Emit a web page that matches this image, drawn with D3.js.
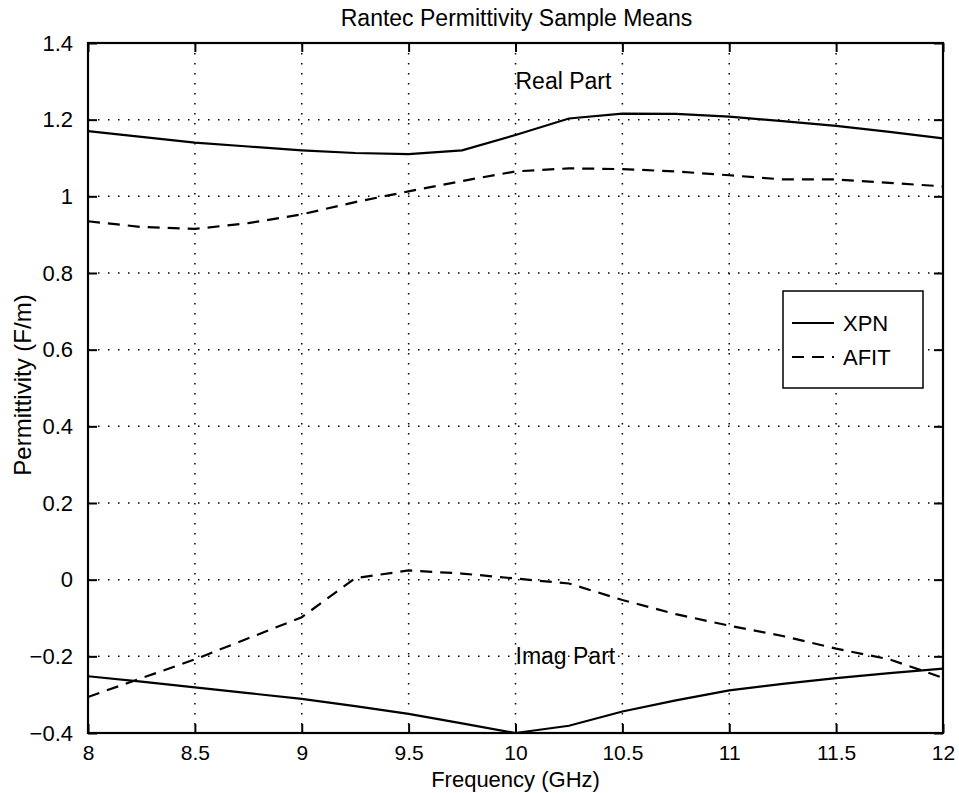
<!DOCTYPE html>
<html><head><meta charset="utf-8">
<script src="https://cdn.jsdelivr.net/npm/d3@7"></script>
<style>
body{margin:0;background:#fff;}
svg{display:block;font-family:"Liberation Sans",Arial,Helvetica,sans-serif;}
</style></head>
<body><svg id="c" width="959" height="793"></svg>
<script>
const freq = [8, 8.25, 8.5, 8.75, 9, 9.25, 9.5, 9.75, 10, 10.25, 10.5, 10.75, 11, 11.25, 11.5, 11.75, 12];
const realXPN  = [1.17, 1.155, 1.14, 1.13, 1.12, 1.113, 1.11, 1.12, 1.16, 1.203, 1.216, 1.215, 1.208, 1.196, 1.184, 1.168, 1.151];
const realAFIT = [0.935, 0.92, 0.915, 0.93, 0.953, 0.985, 1.013, 1.04, 1.065, 1.073, 1.071, 1.065, 1.055, 1.044, 1.044, 1.035, 1.026];
const imagXPN  = [-0.252, -0.266, -0.281, -0.296, -0.311, -0.33, -0.35, -0.375, -0.4, -0.381, -0.344, -0.315, -0.289, -0.272, -0.257, -0.244, -0.232];
const imagAFIT = [-0.306, -0.257, -0.208, -0.153, -0.098, 0.004, 0.024, 0.016, 0.003, -0.01, -0.053, -0.09, -0.12, -0.147, -0.18, -0.208, -0.256];
const xTicks = [8, 8.5, 9, 9.5, 10, 10.5, 11, 11.5, 12];
const yTicks = [-0.4, -0.2, 0, 0.2, 0.4, 0.6, 0.8, 1, 1.2, 1.4];
const seriesNames = ["XPN", "AFIT"];

const svg = d3.select("#c");
const L = 88, R = 943, T = 43, B = 733;
const x = d3.scaleLinear().domain([8, 12]).range([L, R]);
const y = d3.scaleLinear().domain([-0.4, 1.4]).range([B, T]);
const fmtY = v => (v < 0 ? "\u2212" + Math.abs(v) : String(v));
const fmtX = v => String(v);

// grid
const g = svg.append("g");
g.selectAll(".gx").data(xTicks.slice(1, -1)).join("line")
  .attr("x1", d => x(d)).attr("x2", d => x(d)).attr("y1", T).attr("y2", B)
  .attr("stroke", "#000").attr("stroke-width", 1.5).attr("stroke-dasharray", "1.5,8.5");
g.selectAll(".gy").data(yTicks.slice(1, -1)).join("line")
  .attr("y1", d => y(d)).attr("y2", d => y(d)).attr("x1", L).attr("x2", R)
  .attr("stroke", "#000").attr("stroke-width", 1.5).attr("stroke-dasharray", "1.5,8.5");

// axes with inward ticks
const tickLen = 9;
const axB = svg.append("g").attr("transform", `translate(0,${B})`)
  .call(d3.axisBottom(x).tickValues(xTicks).tickFormat(fmtX).tickSizeInner(-tickLen).tickSizeOuter(0).tickPadding(tickLen + 10));
const axT = svg.append("g").attr("transform", `translate(0,${T})`)
  .call(d3.axisTop(x).tickValues(xTicks).tickFormat("").tickSizeInner(-tickLen).tickSizeOuter(0));
const axL = svg.append("g").attr("transform", `translate(${L},0)`)
  .call(d3.axisLeft(y).tickValues(yTicks).tickFormat(fmtY).tickSizeInner(-tickLen).tickSizeOuter(0).tickPadding(tickLen + 6));
const axR = svg.append("g").attr("transform", `translate(${R},0)`)
  .call(d3.axisRight(y).tickValues(yTicks).tickFormat("").tickSizeInner(-tickLen).tickSizeOuter(0));
[axB, axT, axL, axR].forEach(a => {
  a.select(".domain").remove();
  a.selectAll(".tick line").attr("stroke", "#000").attr("stroke-width", 2);
  a.selectAll("text").attr("font-size", 22).attr("fill", "#000")
    .attr("font-family", "'Liberation Sans',Arial,sans-serif");
});
axB.selectAll("text").attr("dy", null).attr("y", 27).attr("font-size", 21);

// frame
svg.append("rect").attr("x", L).attr("y", T).attr("width", R - L).attr("height", B - T)
  .attr("fill", "none").attr("stroke", "#000").attr("stroke-width", 2.2);

// lines
const line = d3.line().x((d, i) => x(freq[i])).y(d => y(d));
const dataSets = [
  {v: realXPN, dash: null}, {v: realAFIT, dash: "12,8"},
  {v: imagXPN, dash: null}, {v: imagAFIT, dash: "12,8"}
];
svg.selectAll(".series").data(dataSets).join("path")
  .attr("d", d => line(d.v)).attr("fill", "none").attr("stroke", "#000")
  .attr("stroke-width", 2.2).attr("stroke-dasharray", d => d.dash);

// annotations
svg.append("text").attr("x", x(10)).attr("y", y(1.3)).attr("dy", "0.35em")
  .attr("font-size", 23).text("Real Part");
svg.append("text").attr("x", x(10)).attr("y", y(-0.2)).attr("dy", "0.35em")
  .attr("font-size", 23).text("Imag Part");

// title & labels
svg.append("text").attr("x", (L + R) / 2 + 1).attr("y", 26).attr("text-anchor", "middle")
  .attr("font-size", 23).text("Rantec Permittivity Sample Means");
svg.append("text").attr("x", (L + R) / 2).attr("y", 787).attr("text-anchor", "middle")
  .attr("font-size", 22).text("Frequency (GHz)");
svg.append("text").attr("transform", `translate(31,${(T + B) / 2 - 3}) rotate(-90)`).attr("text-anchor", "middle")
  .attr("font-size", 24).text("Permittivity (F/m)");

// legend
const lg = svg.append("g");
lg.append("rect").attr("x", 783).attr("y", 291).attr("width", 140).attr("height", 97)
  .attr("fill", "#fff").attr("stroke", "#000").attr("stroke-width", 1.5);
const legY = [323, 357];
const legDash = [null, "12,8"];
seriesNames.forEach((n, i) => {
  lg.append("line").attr("x1", 792).attr("x2", 834).attr("y1", legY[i]).attr("y2", legY[i])
    .attr("stroke", "#000").attr("stroke-width", 2).attr("stroke-dasharray", legDash[i]);
  lg.append("text").attr("x", 843).attr("y", legY[i]).attr("dy", "0.35em").attr("font-size", 22).text(n);
});
</script></body></html>
